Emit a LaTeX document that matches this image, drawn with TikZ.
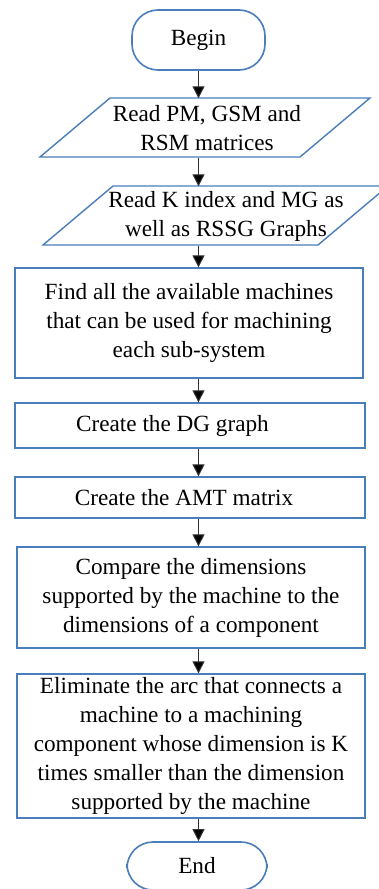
\documentclass[tikz,border=0pt]{standalone}
\usepackage{fontspec}
\setmainfont{Liberation Serif}
\usetikzlibrary{arrows.meta}
\definecolor{edgeblue}{HTML}{4A7EBB}
\begin{document}
\begin{tikzpicture}[x=1pt,y=-1pt,
  every node/.style={font=\fontsize{23.2}{29}\selectfont, align=center, inner sep=0pt},
  terminal/.style={draw=edgeblue, line width=1.6pt, rounded corners=26pt},
  iobox/.style={draw=edgeblue, line width=1.4pt},
  stepbox/.style={draw=edgeblue, line width=1.3pt},
  flow/.style={draw=black!80, line width=1pt, -{Triangle[width=12pt,length=12pt,fill=black]}}]
\useasboundingbox (0,0) rectangle (379,889);

% start terminal
\node[terminal, minimum width=133pt, minimum height=60pt] (begin) at (198.5,40) {Begin};

% input parallelograms
\draw[iobox] (110,98) -- (370,98) -- (300,157) -- (40,157) -- cycle;
\node[minimum height=59pt] (read1) at (207,128) {Read PM, GSM and\\RSM matrices};
\draw[iobox] (113,186) -- (388,186) -- (318,245) -- (43,245) -- cycle;
\node[minimum height=59pt] (read2) at (226,216) {Read K index and MG as\\well as RSSG Graphs};

% process boxes
\node[stepbox, minimum width=348pt, minimum height=110pt] (find) at (189,323) {Find all the available machines\\that can be used for machining\\each sub-system};
\node[stepbox, minimum width=350pt, minimum height=45pt] (dg) at (190,425.5) {Create the DG graph\hspace*{35pt}};
\node[stepbox, minimum width=350pt, minimum height=41pt] (amt) at (190,497.5) {Create the AMT matrix\hspace*{12pt}};
\node[stepbox, minimum width=348pt, minimum height=101pt] (cmp) at (191,597.5) {Compare the dimensions\\supported by the machine to the\\dimensions of a component};
\node[stepbox, minimum width=348pt, minimum height=144pt] (elim) at (191,746) {Eliminate the arc that connects a\\machine to a machining\\component whose dimension is K\\times smaller than the dimension\\supported by the machine};

% end terminal
\node[terminal, minimum width=140pt, minimum height=48pt] (end) at (197,866) {End};

% connectors
\draw[flow] (begin.south) -- (read1.north -| begin.south);
\draw[flow] (read1.south -| begin.south) -- (read2.north -| begin.south);
\draw[flow] (read2.south -| begin.south) -- (find.north -| begin.south);
\draw[flow] (find.south -| begin.south) -- (dg.north -| begin.south);
\draw[flow] (dg.south -| begin.south) -- (amt.north -| begin.south);
\draw[flow] (amt.south -| begin.south) -- (cmp.north -| begin.south);
\draw[flow] (cmp.south -| begin.south) -- (elim.north -| begin.south);
\draw[flow] (elim.south -| begin.south) -- (end.north -| begin.south);
\end{tikzpicture}
\end{document}
